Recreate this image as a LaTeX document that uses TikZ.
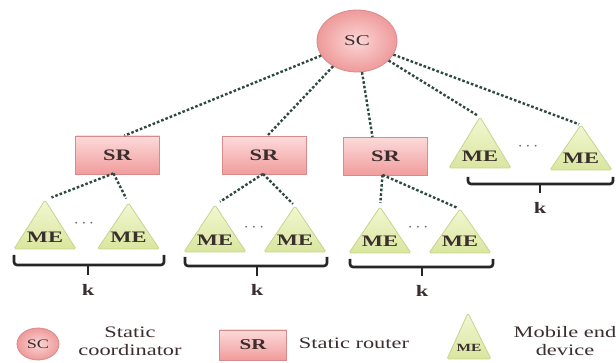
\documentclass[tikz,border=0pt]{standalone}
\usepackage{fontspec}
\setmainfont{Liberation Serif}[FakeStretch=1.4]
\usetikzlibrary{shapes.geometric}
\definecolor{srfillA}{HTML}{FCDADA}
\definecolor{srfillB}{HTML}{F19C9C}
\definecolor{srdraw}{HTML}{D98A8A}
\definecolor{scin}{HTML}{FCD6D6}
\definecolor{scout}{HTML}{EE9A9A}
\definecolor{mefillA}{HTML}{F2F7D2}
\definecolor{mefillB}{HTML}{D9E69E}
\definecolor{medraw}{HTML}{C6D48E}
\definecolor{linkc}{HTML}{2E4A40}
\definecolor{txt}{HTML}{3A2E2E}
\newcommand\metri[5]{%
  \path[mestyle] (#2-31,-#4) -- (#2,-#3) -- (#2+31,-#4) -- cycle;
  \coordinate (#1) at (#2,-#3);
  \node[metext] (#1-l) at (#2,-#4+12) {#5};}
\newcommand\kbrace[7]{%
  \draw[bracesty] (#1,-#4) -- (#1,-#5) -- (#2,-#5) -- (#2,-#4);
  \draw[bracesty] (#3,-#5) -- (#3,-#6);
  \node[ktext] at (#3,-#7) {k};}
\begin{document}
\begin{tikzpicture}[x=1pt,y=1pt,
  scnode/.style={ellipse, draw=srdraw, line width=0.8pt, inner color=scin, outer color=scout,
     minimum width=80pt, minimum height=62pt, inner sep=0pt, text=txt, font=\fontsize{15}{15}\selectfont},
  srnode/.style={rectangle, draw=srdraw, line width=0.8pt, top color=srfillA, bottom color=srfillB,
     minimum width=84pt, minimum height=38pt, inner sep=0pt, text=txt, font=\bfseries\fontsize{16}{16}\selectfont},
  mestyle/.style={draw=medraw, line width=0.8pt, top color=mefillA, bottom color=mefillB, rounded corners=1.5pt},
  metext/.style={inner sep=0pt, text=txt, font=\bfseries\fontsize{16}{16}\selectfont},
  linkst/.style={draw=linkc, line width=2.4pt, dash pattern=on 2.6pt off 2pt},
  bracesty/.style={draw=black!85, line width=2.6pt, rounded corners=3pt},
  ktext/.style={inner sep=0pt, text=txt, font=\bfseries\fontsize{16}{16}\selectfont},
  dotsty/.style={inner sep=0pt, text=black!60, font=\fontsize{18}{18}\selectfont},
  lbl/.style={inner sep=0pt, text=txt, align=center, font=\fontsize{16}{18}\selectfont}]
\useasboundingbox (0,0) rectangle (616,-363);

% nodes
\node[scnode] (sc) at (357,-41) {SC};
\node[srnode] (sr1) at (117.5,-155) {SR};
\node[srnode] (sr2) at (264,-155.5) {SR};
\node[srnode] (sr3) at (385.5,-156.5) {SR};

\metri{me1a}{45}{200}{249}{ME}
\metri{me1b}{128.5}{203}{249}{ME}
\metri{me2a}{215}{205}{252}{ME}
\metri{me2b}{295}{206}{252}{ME}
\metri{me3a}{380}{207}{253}{ME}
\metri{me3b}{460}{209}{253}{ME}
\metri{me4a}{480}{117}{168}{ME}
\metri{me4b}{581}{125}{170}{ME}

\node[dotsty] (d1) at (84,-224) {$\cdots$};
\node[dotsty] (d2) at (254,-228) {$\cdots$};
\node[dotsty] (d3) at (418,-228) {$\cdots$};
\node[dotsty] (d4) at (528,-147) {$\cdots$};

% connectors
\draw[linkst] (sc) -- ([xshift=7pt]sr1.north);
\draw[linkst] (sc) -- ([xshift=3pt]sr2.north);
\draw[linkst] (sc) -- ([xshift=-13pt]sr3.north);
\draw[linkst, shorten >=2pt] (sc) -- (me4a);
\draw[linkst, shorten >=2pt] (sc) -- (me4b);

\coordinate (sr1b) at ([xshift=-4pt,yshift=1pt]sr1.south);
\coordinate (sr2b) at ([xshift=-1pt,yshift=1pt]sr2.south);
\coordinate (sr3b) at ([xshift=-3pt,yshift=1pt]sr3.south);
\draw[linkst, shorten >=7pt] (sr1b) -- (me1a);
\draw[linkst, shorten >=5pt] (sr1b) -- (me1b);
\draw[linkst, shorten >=6pt] (sr2b) -- (me2a);
\draw[linkst, shorten >=3pt] (sr2b) -- (me2b);
\draw[linkst, shorten >=4pt] (sr3b) -- (me3a);
\draw[linkst, shorten >=3pt] (sr3b) -- (me3b);

% braces
\kbrace{14}{164}{88}{255}{265}{275}{290}
\kbrace{185}{327}{257}{257}{266}{276}{290}
\kbrace{350}{493}{422}{259}{267}{276}{291}
\kbrace{468}{613}{540}{177}{184}{193}{208}

% legend
\node[scnode, minimum width=42pt, minimum height=32pt, font=\fontsize{13}{13}\selectfont] (lsc) at (38,-344) {SC};
\node[lbl] (lsct) at (130,-341) {Static\\coordinator};
\node[srnode, minimum width=67pt, minimum height=30pt, font=\bfseries\fontsize{15}{15}\selectfont] (lsr) at (253,-345) {SR};
\node[lbl] (lsrt) at (354,-343) {Static router};
\path[mestyle] (447,-359) -- (468,-313) -- (491,-359) -- cycle;
\node[metext, font=\bfseries\fontsize{11}{11}\selectfont] (lme) at (469,-348) {ME};
\node[lbl] (lmet) at (565,-341) {Mobile end\\device};
\end{tikzpicture}
\end{document}
